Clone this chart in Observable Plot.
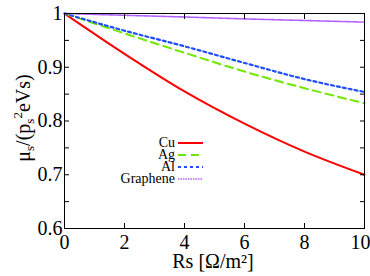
<!DOCTYPE html>
<html><head><meta charset="utf-8">
<script src="https://cdn.jsdelivr.net/npm/d3@7"></script>
<script src="https://cdn.jsdelivr.net/npm/@observablehq/plot@0.6"></script>
<style>
html,body{margin:0;padding:0;background:#fff;}
#chart{position:relative;width:370px;height:276px;}
#chart svg, #chart svg text, #chart svg tspan{font-family:"Liberation Serif","Times New Roman",serif !important;}
</style></head>
<body><div id="chart"></div>
<script>
const rs = [0, 2, 4, 6, 8, 10];
const cu = [1, 0.925, 0.855, 0.795, 0.743, 0.700];
const ag = [1, 0.963, 0.927, 0.892, 0.861, 0.833];
const al = [1, 0.968, 0.939, 0.908, 0.878, 0.854];
const graphene = [1, 0.9967, 0.9935, 0.990, 0.987, 0.984];
const seriesNames = ["Cu", "Ag", "Al", "Graphene"];
const seriesValues = [cu, ag, al, graphene];
const xTicks = [0, 2, 4, 6, 8, 10];
const yTicks = [0.6, 0.65, 0.7, 0.75, 0.8, 0.85, 0.9, 0.95, 1];

const styles = {
  Cu: {stroke: "#ff0000", strokeWidth: 2, dash: null},
  Ag: {stroke: "#6fe800", strokeWidth: 2, dash: "8,5"},
  Al: {stroke: "#1f4fff", strokeWidth: 2.2, dash: "3,3"},
  Graphene: {stroke: "#b060ff", strokeWidth: 1.6, dash: "1.5,1"}
};

const rows = [];
seriesNames.forEach((n, i) => rs.forEach((x, j) => rows.push({name: n, x, y: seriesValues[i][j]})));

const yFmt = d => {
  const t = d * 10;
  if (Math.abs(t - Math.round(t)) > 1e-6) return "";
  return d === 1 ? "1" : d.toFixed(1);
};

const lineMarks = seriesNames.map(n => Plot.line(rows.filter(r => r.name === n), {
  x: "x", y: "y", curve: "monotone-x",
  stroke: styles[n].stroke, strokeWidth: styles[n].strokeWidth,
  strokeDasharray: styles[n].dash
}));

const plot = Plot.plot({
  width: 370, height: 276,
  marginLeft: 64, marginRight: 6, marginTop: 13, marginBottom: 48,
  style: {fontSize: "20px", color: "#000", background: "#fff"},
  x: {domain: [0, 10], label: null},
  y: {domain: [0.6, 1], label: null},
  marks: [
    ...lineMarks,
    Plot.frame({stroke: "#000", strokeWidth: 1}),
    Plot.axisX(xTicks, {anchor: "bottom", tickSize: -5, tickPadding: 11, fontSize: 20, label: null, tickFormat: d => String(d), ariaLabel: "x-bottom"}),
    Plot.axisX(xTicks, {anchor: "top", tickSize: -5, label: null, tickFormat: () => ""}),
    Plot.axisY(yTicks, {anchor: "left", tickSize: -5, tickPadding: 7, fontSize: 20, label: null, tickFormat: yFmt}),
    Plot.axisY(yTicks, {anchor: "right", tickSize: -5, label: null, tickFormat: () => ""})
  ]
});
document.getElementById("chart").appendChild(plot);

const svg = d3.select(plot);
// keep the last x tick label inside the image
svg.selectAll("text").filter(function () { return this.textContent === "10"; })
  .attr("text-anchor", "end").attr("dx", 6);

// y title
const yt = svg.append("text")
  .attr("transform", "translate(30,118) rotate(-90)")
  .attr("text-anchor", "middle")
  .attr("font-size", 20)
  .attr("fill", "#000");
yt.append("tspan").text("μ");
yt.append("tspan").attr("font-size", 13).attr("dy", 4).text("s");
yt.append("tspan").attr("dy", -4).text("/(p");
yt.append("tspan").attr("font-size", 13).attr("dy", 4).text("s");
yt.append("tspan").attr("font-size", 13).attr("dy", -12).text("2");
yt.append("tspan").attr("dy", 8).text("eVs)");

// x title
svg.append("text")
  .attr("x", 213).attr("y", 268)
  .attr("text-anchor", "middle")
  .attr("font-size", 20)
  .attr("fill", "#000")
  .text("Rs [Ω/m²]");

// legend
const leg = svg.append("g").attr("font-size", 14);
seriesNames.forEach((n, i) => {
  const cy = 143 + i * 12;
  leg.append("text").attr("x", 175).attr("y", cy).attr("dy", "0.32em")
    .attr("text-anchor", "end").attr("fill", "#000").text(n);
  leg.append("line").attr("x1", 178).attr("x2", 203).attr("y1", cy).attr("y2", cy)
    .attr("stroke", styles[n].stroke).attr("stroke-width", styles[n].strokeWidth)
    .attr("stroke-dasharray", styles[n].dash);
});
</script></body></html>
